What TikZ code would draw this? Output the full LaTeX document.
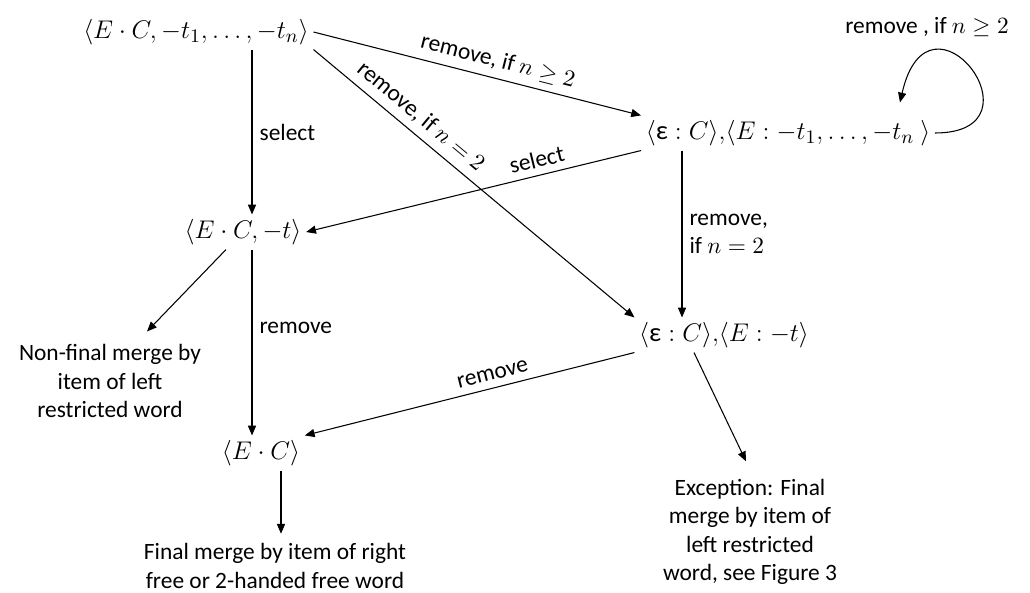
\documentclass[tikz,border=0pt]{standalone}
\usepackage{amsmath}
\usepackage{fontspec}
\setmainfont{Carlito}
\usetikzlibrary{arrows.meta,calc}

\begin{document}
\begin{tikzpicture}[x=0.47pt,y=-0.47pt,line width=0.5pt,
    >={Triangle[length=4.6pt,width=3.8pt]},
    font=\fontsize{11}{13.4}\selectfont,
    state/.style={font=\fontsize{12.5}{15}\selectfont, inner sep=2pt},
    note/.style={align=center, inner sep=2pt}]
          \useasboundingbox (0,0) rectangle (1030,592);

          \node[state] (1) at (196,32) {$\langle E\cdot C, -t_1, \ldots, -t_n\rangle$};
          \node[state] (2) at (788,133) {$\langle \text{ε} : C\rangle{,}\langle E : -t_1, \ldots, -t_n\ \rangle$};
          \node[state] (3) at (243,232) {$\langle E\cdot C, -t\rangle$};
          \node[state] (4) at (724,335) {$\langle \text{ε} : C\rangle{,}\langle E : -t\rangle$};
          \node[state] (5) at (261,453) {$\langle E\cdot C\rangle$};
          \node[note] (6) at (110,381) {Non-final merge by\\item of left\\restricted word};
          \node[note] (7) at (275,566) {Final merge by item of right\\free or 2-handed free word};
          \node[note] (8) at (750,532) {Exception: Final\\merge by item of\\left restricted\\word, see Figure 3};

          \draw[->] ($(1.south)+(56,0)$) -- node[midway, right] {select} ($(3.north)+(9,0)$);
          \draw[->] (1.east) -- node[pos=0.55, above, sloped] {remove, if $n \geq 2$} (2.north west);
          \draw[->] (1.south east) -- node[pos=0.3, above, sloped] {remove, if $n = 2$} (4.north west);
          \draw[->] (2.south west) -- node[pos=0.3, above, sloped] {select} (3.east);
          \draw[->] ($(2.south)+(-106,0)$) -- node[midway, right, align=left] {remove,\\if $n = 2$} ($(4.north)+(-42,0)$);
          \draw[->] (2.east) .. controls +(114,0) and +(29,-128) .. ($(2.north east)+(-35,-13)$)
                node[pos=0.7, above=4pt, xshift=-7pt] {remove , if $n \geq 2$};
          \draw[->] ($(3.south)+(-17,0)$) -- ($(6.north)+(37,-8)$);
          \draw[->] ($(3.south)+(9,0)$) -- node[pos=0.42, right] {remove} ($(5.north)+(-9,0)$);
          \draw[->] (4.south west) -- node[pos=0.42, above, sloped] {remove} (5.north east);
          \draw[->] ($(4.south)+(-30,0)$) -- ($(8.north)+(-4,-13)$);
          \draw[->] ($(5.south)+(20,0)$) -- ($(7.north)+(6,-5)$);
    \end{tikzpicture}
\end{document}
